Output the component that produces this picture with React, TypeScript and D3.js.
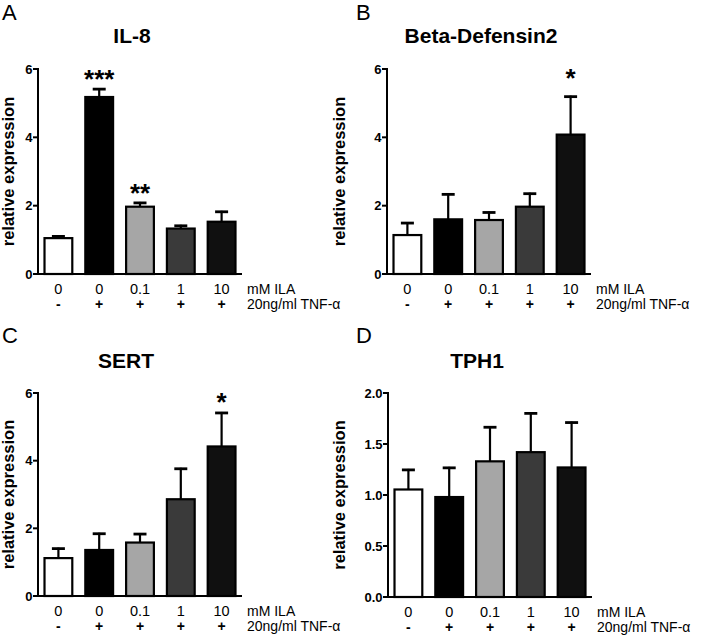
import React from "react";
import * as d3 from "d3";

const groups = ["0", "0", "0.1", "1", "10"];
const tnf = ["-", "+", "+", "+", "+"];
const barFills = ["#ffffff", "#000000", "#a6a6a6", "#3a3a3a", "#101010"];

const il8Mean = [1.05, 5.18, 1.97, 1.33, 1.53];
const il8Err = [1.13, 5.44, 2.11, 1.44, 1.85];
const il8Stars = ["", "***", "**", "", ""];

const bd2Mean = [1.14, 1.6, 1.58, 1.97, 4.08];
const bd2Err = [1.52, 2.36, 1.83, 2.38, 5.22];
const bd2Stars = ["", "", "", "", "*"];

const sertMean = [1.12, 1.36, 1.58, 2.86, 4.42];
const sertErr = [1.43, 1.87, 1.86, 3.79, 5.44];
const sertStars = ["", "", "", "", "*"];

const tph1Mean = [1.054, 0.98, 1.33, 1.42, 1.27];
const tph1Err = [1.256, 1.276, 1.674, 1.81, 1.72];
const tph1Stars = ["", "", "", "", ""];

const ticks6 = [0, 2, 4, 6];
const ticks2 = [0, 0.5, 1.0, 1.5, 2.0];

const FONT = "'Liberation Sans', Arial, Helvetica, sans-serif";

const panels = [
  { letter: "A", title: "IL-8", mean: il8Mean, err: il8Err, stars: il8Stars, yMax: 6, ticks: ticks6, fmt: d3.format("d"),
    axisX: 38, y0: 274, yTop: 69, letterX: 2, letterY: 20, ylabX: 14, titleX: 132, titleY: 43, starGap: 19 },
  { letter: "B", title: "Beta-Defensin2", mean: bd2Mean, err: bd2Err, stars: bd2Stars, yMax: 6, ticks: ticks6, fmt: d3.format("d"),
    axisX: 387, y0: 274, yTop: 69, letterX: 356, letterY: 20, ylabX: 345, titleX: 481, titleY: 43, starGap: 28 },
  { letter: "C", title: "SERT", mean: sertMean, err: sertErr, stars: sertStars, yMax: 6, ticks: ticks6, fmt: d3.format("d"),
    axisX: 38, y0: 596, yTop: 393, letterX: 2, letterY: 343, ylabX: 14, titleX: 126, titleY: 368, starGap: 20 },
  { letter: "D", title: "TPH1", mean: tph1Mean, err: tph1Err, stars: tph1Stars, yMax: 2, ticks: ticks2, fmt: d3.format(".1f"),
    axisX: 388, y0: 597, yTop: 393, letterX: 356, letterY: 343, ylabX: 345, titleX: 477, titleY: 368, starGap: 20 },
];

function Panel({ p }: { p: (typeof panels)[number] }) {
  const y = d3.scaleLinear().domain([0, p.yMax]).range([p.y0, p.yTop]);
  const x = d3
    .scaleBand<number>()
    .domain(d3.range(groups.length))
    .range([p.axisX, p.axisX + 204])
    .paddingInner(0.27)
    .paddingOuter(0.135);
  const bw = x.bandwidth();
  const axisEnd = p.axisX + 204;
  return (
    <g fontFamily={FONT}>
      <text x={p.letterX} y={p.letterY} fontSize={22}>{p.letter}</text>
      <text x={p.titleX} y={p.titleY} fontSize={21} fontWeight="bold" textAnchor="middle">{p.title}</text>
      <text
        transform={`translate(${p.ylabX},${(p.y0 + p.yTop) / 2}) rotate(-90)`}
        fontSize={16.5}
        fontWeight="bold"
        textAnchor="middle"
      >
        relative expression
      </text>
      {p.mean.map((m, i) => {
        const x0 = x(i)!;
        const cx = x0 + bw / 2;
        const top = y(m);
        const et = y(p.err[i]);
        return (
          <g key={i}>
            <line x1={cx} x2={cx} y1={top} y2={et} stroke="#000" strokeWidth={2.2} />
            <line x1={cx - 6.5} x2={cx + 6.5} y1={et + 1} y2={et + 1} stroke="#000" strokeWidth={2.8} />
            <rect x={x0 + 1} y={top} width={bw - 2} height={p.y0 - top} fill={barFills[i]} stroke="#000" strokeWidth={2.2} />
            {p.stars[i] && (
              <text x={cx} y={et - p.starGap + 19} fontSize={26} fontWeight="bold" textAnchor="middle">
                {p.stars[i]}
              </text>
            )}
          </g>
        );
      })}
      <line x1={p.axisX} x2={p.axisX} y1={p.yTop - 1} y2={p.y0 + 1} stroke="#000" strokeWidth={2} />
      <line x1={p.axisX - 1} x2={axisEnd} y1={p.y0} y2={p.y0} stroke="#000" strokeWidth={2} />
      {p.ticks.map((t) => (
        <g key={t}>
          <line x1={p.axisX - 5} x2={p.axisX} y1={y(t)} y2={y(t)} stroke="#000" strokeWidth={2} />
          <text x={p.axisX - 5.5} y={y(t)} dy="0.36em" fontSize={13} fontWeight="bold" textAnchor="end">
            {p.fmt(t)}
          </text>
        </g>
      ))}
      {groups.map((g, i) => (
        <text key={"g" + i} x={x(i)! + bw / 2} y={p.y0 + 20} fontSize={14.5} textAnchor="middle">{g}</text>
      ))}
      {tnf.map((g, i) => (
        <text key={"t" + i} x={x(i)! + bw / 2} y={p.y0 + 35} fontSize={14} fontWeight="bold" textAnchor="middle">{g}</text>
      ))}
      <text x={axisEnd + 5} y={p.y0 + 20} fontSize={14}>mM ILA</text>
      <text x={axisEnd + 5} y={p.y0 + 35} fontSize={14}>20ng/ml TNF-α</text>
    </g>
  );
}

export default function App() {
  return (
    <svg width={709} height={642} style={{ position: "absolute", left: 0, top: 0, background: "#fff" }}>
      <rect width={709} height={642} fill="#fff" />
      {panels.map((p) => (
        <Panel key={p.letter} p={p} />
      ))}
    </svg>
  );
}
